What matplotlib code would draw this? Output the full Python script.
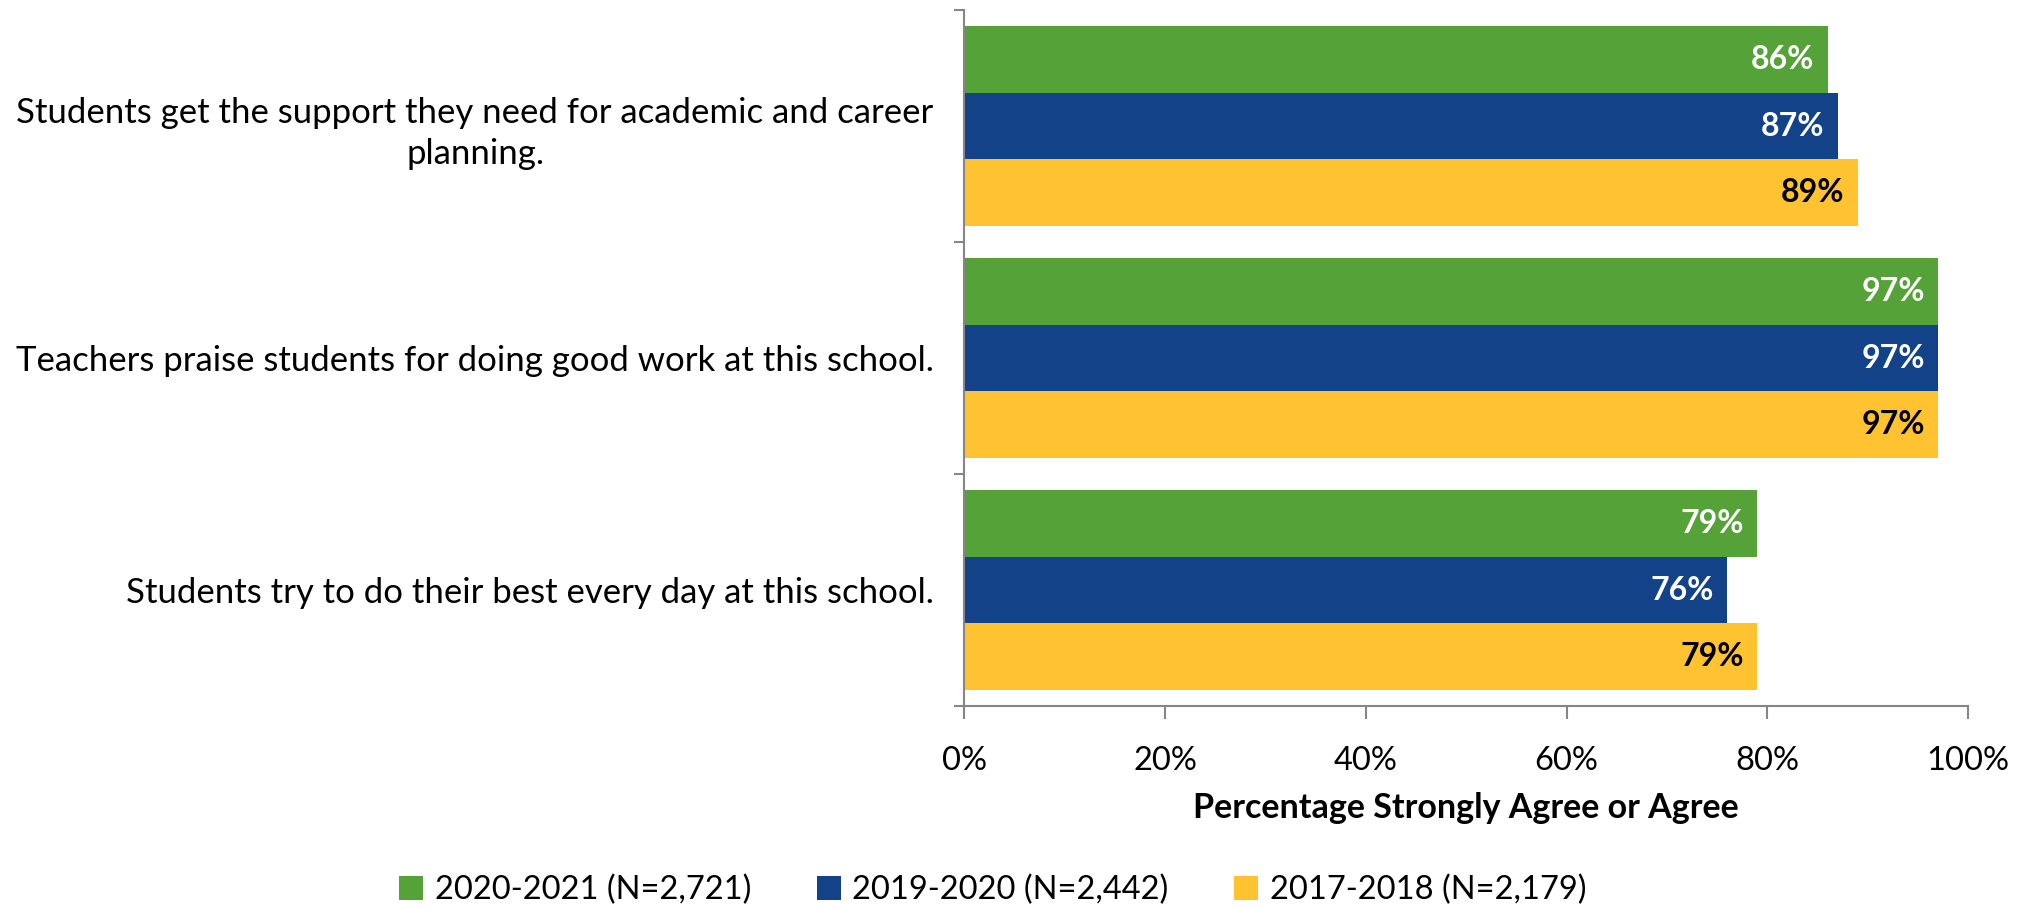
import numpy as np
import matplotlib
matplotlib.use("Agg")
import matplotlib.pyplot as plt
from matplotlib.ticker import FixedLocator, PercentFormatter

plt.rcParams['font.family'] = ['Lato', 'DejaVu Sans']

# survey items (top to bottom)
questions = [
    "Students get the support they need for academic and career\nplanning.",
    "Teachers praise students for doing good work at this school.",
    "Students try to do their best every day at this school.",
]
series = ["2020-2021 (N=2,721)", "2019-2020 (N=2,442)", "2017-2018 (N=2,179)"]
vals_2021 = [86, 97, 79]
vals_2020 = [87, 97, 76]
vals_2018 = [89, 97, 79]

colors = ["#54A238", "#134289", "#FFC230"]
text_colors = ["white", "white", "black"]

fig = plt.figure(figsize=(20.30, 9.09), dpi=100)
ax = fig.add_axes([0.475, 0.2233, 0.4945, 0.7657])

n = len(questions)
y = np.arange(n)
bh = 0.287
all_vals = [vals_2021, vals_2020, vals_2018]
for i, (vals, lab) in enumerate(zip(all_vals, series)):
    pos = y + (i - 1) * bh
    bars = ax.barh(pos, vals, height=bh, color=colors[i], label=lab, zorder=2)
    for b, v in zip(bars, vals):
        ax.text(v - 1.3, b.get_y() + b.get_height() / 2, f"{v}%",
                ha='right', va='center', color=text_colors[i],
                fontsize=23, fontweight='bold')

ax.set_xlim(0, 100)
ax.set_ylim(n - 0.5, -0.5)
ax.xaxis.set_major_formatter(PercentFormatter(decimals=0))
ax.set_xticks([0, 20, 40, 60, 80, 100])
ax.set_yticks(y)
ax.set_yticklabels(questions, multialignment='center', fontsize=25,
                   linespacing=1.35)
ax.yaxis.set_minor_locator(FixedLocator(np.arange(-0.5, n, 1.0)))
ax.tick_params(axis='y', which='major', length=0, pad=22)
ax.tick_params(axis='y', which='minor', length=7, color='#868686', width=1.5)
ax.tick_params(axis='x', length=9, color='#868686', width=1.5, labelsize=23.5, pad=20)

for s in ['top', 'right']:
    ax.spines[s].set_visible(False)
for s in ['left', 'bottom']:
    ax.spines[s].set_color('#868686')
    ax.spines[s].set_linewidth(1.5)

ax.set_xlabel("Percentage Strongly Agree or Agree", fontsize=24.5,
              fontweight='bold', labelpad=11)

fig.legend(loc='center', bbox_to_anchor=(0.489, 0.021), ncol=3,
           frameon=False, fontsize=23.5, handlelength=0.75, handleheight=0.75,
           handletextpad=0.35, columnspacing=2.0)

fig.savefig("out.png", dpi=100)
